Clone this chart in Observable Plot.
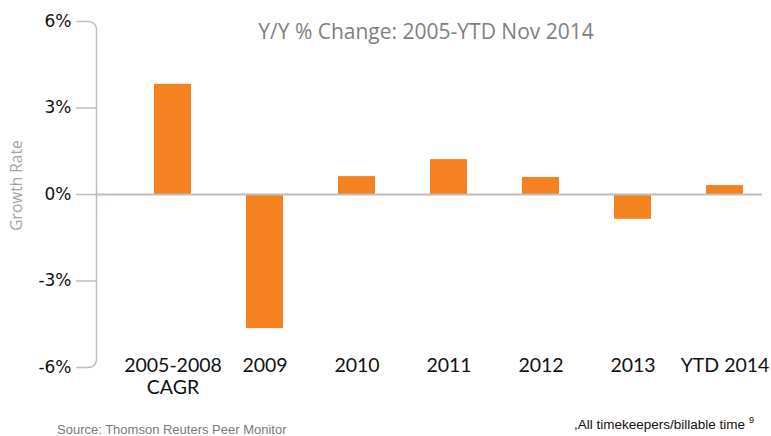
<!DOCTYPE html>
<html>
<head>
<meta charset="utf-8">
<script src="https://cdn.jsdelivr.net/npm/d3@7"></script>
<script src="https://cdn.jsdelivr.net/npm/@observablehq/plot@0.6"></script>
<style>
  html, body { margin: 0; padding: 0; background: #fff; }
  #wrap { width: 771px; }
  #footer { position: relative; width: 771px; height: 24px; font-family: "Liberation Sans", Arial, sans-serif; }
  #src { position: absolute; left: 57px; top: 10px; font-size: 13px; color: #7a7a7a; }
  #note { position: absolute; right: 17px; top: 3px; font-size: 13.5px; color: #111; white-space: nowrap; }
  #note sup { font-size: 9px; margin-left: 4px; vertical-align: 6px; }
</style>
</head>
<body>
<div id="wrap"></div>
<div id="footer"><span id="src">Source: Thomson Reuters Peer Monitor</span><span id="note">,All timekeepers/billable time<sup>9</sup></span></div>
<script>
const categories = ["2005-2008 CAGR", "2009", "2010", "2011", "2012", "2013", "YTD 2014"];
const categoryLabels = ["2005-2008\nCAGR", "2009", "2010", "2011", "2012", "2013", "YTD 2014"];
const growth = [3.82, -4.65, 0.62, 1.21, 0.59, -0.86, 0.31];
const yTicks = [-6, -3, 0, 3, 6];
const titleText = "Y/Y % Change: 2005-YTD Nov 2014";
const yLabel = "Growth Rate";

const data = categories.map((c, i) => ({category: c, value: growth[i]}));
const labelOf = new Map(categories.map((c, i) => [c, categoryLabels[i]]));

const gray = "#c4bab8";
const orange = "#f58220";

const chart = Plot.plot({
  width: 771,
  height: 412,
  marginTop: 21,
  marginBottom: 45,
  marginLeft: 96,
  marginRight: 9,
  x: {domain: categories, paddingInner: 0.6, paddingOuter: 0.2, insetLeft: 38},
  y: {domain: [-6, 6]},
  marks: [
    Plot.barY(data, {x: "category", y: "value", fill: orange}),
    Plot.ruleY([0], {stroke: gray, strokeWidth: 2}),
    Plot.frame({stroke: gray, strokeWidth: 1.5, rx: 8, insetLeft: -28, insetRight: 666,
      strokeDasharray: "379.1 420"}),
    Plot.axisY({ticks: [-3, 0, 3], tickSize: 20, tickFormat: () => "", stroke: gray, strokeWidth: 1.5, label: null}),
    Plot.axisY({ticks: yTicks, tickSize: 0, tickPadding: 25, tickFormat: d => d + "%", fill: "#111",
      fontSize: 17, fontFamily: "DejaVu Sans", label: null}),
    Plot.axisX({tickSize: 0, tickPadding: 0, dy: -10, tickFormat: d => labelOf.get(d), fill: "#111",
      fontSize: 19.5, fontFamily: "Lato", lineHeight: 1.08, label: null}),
    Plot.text([yLabel], {frameAnchor: "left", rotate: -90, dx: -79, dy: -9, fill: "#a3a3a3",
      fontSize: 15.5, fontFamily: "Open Sans", textAnchor: "middle", lineAnchor: "middle"}),
    Plot.text([titleText], {frameAnchor: "top", dx: -3.5, dy: 11, fill: "#7f7f7f",
      fontSize: 21, fontFamily: "Open Sans", textAnchor: "middle", lineAnchor: "middle"})
  ]
});
document.getElementById("wrap").appendChild(chart);
</script>
</body>
</html>
